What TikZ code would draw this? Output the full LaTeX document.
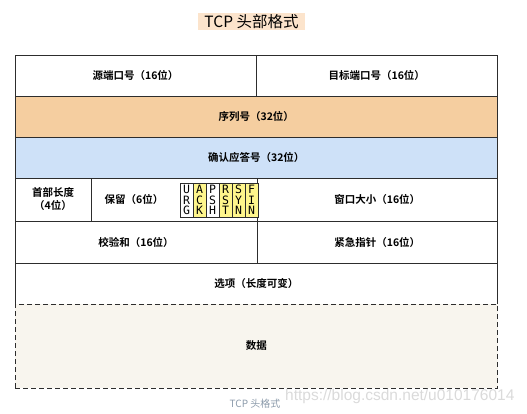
\documentclass[tikz,border=0pt]{standalone}
\usepackage{fontspec}
\setmainfont{Liberation Sans}
\newfontfamily\cnfont{Noto Sans CJK SC}[BoldFont={Noto Sans CJK SC Bold}]
\newfontfamily\flagfont{DejaVu Sans Mono}
\usepackage{tikz}
\usetikzlibrary{positioning}

\definecolor{seqorange}{RGB}{245,206,160}
\definecolor{ackblue}{RGB}{206,225,248}
\definecolor{flagyellow}{RGB}{255,246,140}
\definecolor{datafill}{RGB}{248,245,238}
\definecolor{titlebg}{RGB}{252,228,204}
\definecolor{edge}{RGB}{45,45,45}
\definecolor{capgrey}{RGB}{140,155,171}

\tikzset{
  cell/.style={draw=edge, line width=0.9pt, inner sep=0pt, outer sep=0pt,
    anchor=north west, align=center, font=\cnfont\bfseries\fontsize{10.5}{13}\selectfont},
  flagbox/.style={draw=edge, line width=0.7pt, inner sep=0pt, outer sep=0pt,
    anchor=north west, minimum width=13pt, minimum height=34pt, align=center,
    font=\flagfont\fontsize{11.5}{10.5}\selectfont}
}

\begin{document}
\begin{tikzpicture}[x=1pt,y=-1pt,node distance=0pt]
  \useasboundingbox (0,0) rectangle (527,413);

  % title
  \node [fill=titlebg, inner sep=0pt, minimum width=107pt, minimum height=17pt,
         font=\cnfont\fontsize{15.5}{18}\selectfont] (title) at (251.5,21.5) {TCP 头部格式};

  % first row
  \node [cell, minimum width=241pt, minimum height=41pt] (src) at (15,55) {源端口号（16位）};
  \node [cell, minimum width=241.5pt, minimum height=41pt, right=of src] (dst) {目标端口号（16位）};

  \node [cell, fill=seqorange, minimum width=482.5pt, minimum height=41pt] (seq) at (15,96) {序列号（32位）};
  \node [cell, fill=ackblue, minimum width=482.5pt, minimum height=41pt] (ack) at (15,137) {确认应答号（32位）};

  % row with the flags
  \node [cell, minimum width=76pt, minimum height=43pt] (hlen) at (15,178) {首部长度\\（4位）};
  \node [cell, minimum width=166pt, minimum height=43pt, right=of hlen] (rsv) {};
  \node [cell, draw=none, anchor=center] (rsvtext) at (134,199.5) {保留（6位）};
  \node [cell, minimum width=240.5pt, minimum height=43pt, right=of rsv] (win) {窗口大小（16位）};

  \foreach \a/\b/\c/\col [count=\i from 0] in {U/R/G/white, A/C/K/flagyellow, P/S/H/white,
      R/S/T/flagyellow, S/Y/N/flagyellow, F/I/N/flagyellow}
    \node [flagbox, fill=\col] (flag\i) at (180+13*\i,183) {\a\\\b\\\c};

  \node [cell, minimum width=242pt, minimum height=42pt] (chk) at (15,221) {校验和（16位）};
  \node [cell, minimum width=240.5pt, minimum height=42pt, right=of chk] (urg) {紧急指针（16位）};

  \node [cell, minimum width=482.5pt, minimum height=41pt] (opt) at (15,263) {选项（长度可变）};

  % data part
  \node [cell, fill=datafill, dash pattern=on 5pt off 3pt, minimum width=482.5pt,
         minimum height=84pt] (data) at (15,304) {数据};

  % caption and watermark
  \node [text=capgrey, font=\cnfont\fontsize{10}{12}\selectfont] (caption) at (255,404) {TCP 头格式};
  \node [anchor=west, inner sep=0pt, text={rgb,255:red,218;green,218;blue,218},
         font=\fontsize{15.5}{18}\selectfont] (mark) at (285,396) {https://blog.csdn.net/u010176014};
\end{tikzpicture}
\end{document}
